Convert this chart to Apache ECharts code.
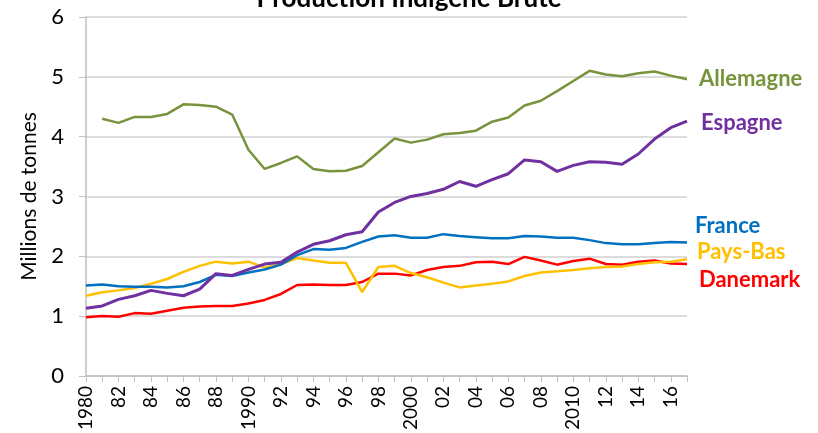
<!DOCTYPE html>
<html>
<head>
<meta charset="utf-8">
<script src="https://cdn.jsdelivr.net/npm/echarts@6/dist/echarts.min.js"></script>
<style>
html, body { margin: 0; padding: 0; background: #fff; }
#chart { width: 818px; height: 433px; }
</style>
</head>
<body>
<div id="chart"></div>
<script>
// années 1980 - 2017
const years = [];
for (let y = 1980; y <= 2017; y++) years.push(String(y));

const allemagne = [null, 4.30, 4.23, 4.33, 4.33, 4.38, 4.54, 4.53, 4.50, 4.37,
	3.78, 3.46, 3.56, 3.67, 3.46, 3.42, 3.43, 3.51, 3.74, 3.97,
	3.90, 3.95, 4.04, 4.06, 4.10, 4.25, 4.32, 4.52, 4.60, 4.76,
	4.93, 5.10, 5.04, 5.01, 5.06, 5.09, 5.02, 4.96];
const espagne = [1.13, 1.17, 1.28, 1.34, 1.43, 1.38, 1.34, 1.45, 1.71, 1.68,
	1.78, 1.87, 1.90, 2.07, 2.20, 2.26, 2.36, 2.41, 2.74, 2.90,
	3.00, 3.05, 3.12, 3.25, 3.17, 3.28, 3.38, 3.61, 3.58, 3.42,
	3.52, 3.58, 3.57, 3.54, 3.71, 3.96, 4.15, 4.26];
const france = [1.51, 1.53, 1.50, 1.49, 1.49, 1.48, 1.50, 1.57, 1.69, 1.67,
	1.73, 1.78, 1.86, 2.02, 2.12, 2.11, 2.14, 2.24, 2.33, 2.35,
	2.31, 2.31, 2.37, 2.34, 2.32, 2.30, 2.30, 2.34, 2.33, 2.31,
	2.31, 2.27, 2.22, 2.20, 2.20, 2.22, 2.24, 2.23];
const paysBas = [1.34, 1.40, 1.43, 1.47, 1.54, 1.62, 1.74, 1.84, 1.91, 1.88,
	1.91, 1.81, 1.87, 1.97, 1.93, 1.89, 1.89, 1.40, 1.82, 1.84,
	1.72, 1.65, 1.56, 1.48, 1.51, 1.54, 1.58, 1.67, 1.73, 1.75,
	1.77, 1.80, 1.82, 1.83, 1.87, 1.90, 1.91, 1.95];
const danemark = [0.98, 1.00, 0.99, 1.05, 1.04, 1.09, 1.14, 1.16, 1.17, 1.17,
	1.21, 1.27, 1.37, 1.52, 1.53, 1.52, 1.52, 1.57, 1.71, 1.71,
	1.68, 1.77, 1.82, 1.84, 1.90, 1.91, 1.87, 1.99, 1.93, 1.86,
	1.92, 1.96, 1.87, 1.86, 1.91, 1.93, 1.88, 1.87];

const fontFam = 'Lato, Open Sans, sans-serif';

function serie(name, data, color, width, off) {
	return {
		name: name,
		type: 'line',
		data: data,
		symbol: 'none',
		lineStyle: { color: color, width: width },
		itemStyle: { color: color },
		endLabel: {
			show: true,
			formatter: name,
			color: color,
			fontFamily: fontFam,
			fontWeight: 'bold',
			fontSize: 22,
			offset: off
		}
	};
}

const myChart = echarts.init(document.getElementById('chart'));
const option = {
	animation: false,
	backgroundColor: '#fff',
	title: {
		text: 'Production Indigène Brute',
		left: 'center',
		top: -19,
		textStyle: { fontFamily: fontFam, fontWeight: 'bold', fontSize: 26, color: '#000' }
	},
	grid: { left: 86, right: 131, top: 17, bottom: 57 },
	xAxis: {
		type: 'category',
		data: years,
		boundaryGap: false,
		axisLine: { lineStyle: { color: '#bfbfbf', width: 1.5 } },
		axisTick: { show: true, interval: 0, length: 6, lineStyle: { color: '#bfbfbf' } },
		axisLabel: {
			interval: 1,
			rotate: 90,
			fontFamily: fontFam,
			fontSize: 19,
			color: '#000',
			margin: 10,
			formatter: function (v) {
				return Number(v) % 10 === 0 ? v : v.slice(2);
			}
		}
	},
	yAxis: {
		type: 'value',
		min: 0,
		max: 6,
		interval: 1,
		name: 'Millions de tonnes',
		nameLocation: 'middle',
		nameGap: 46,
		nameTextStyle: { fontFamily: fontFam, fontSize: 21, color: '#000' },
		axisLine: { show: true, lineStyle: { color: '#bfbfbf', width: 1.5 } },
		axisTick: { show: true, length: 7, lineStyle: { color: '#bfbfbf' } },
		axisLabel: { fontFamily: fontFam, fontSize: 22, color: '#000', margin: 22 },
		splitLine: { lineStyle: { color: '#d0d0d0', width: 1.5 } }
	},
	series: [
		serie('Allemagne', allemagne, '#77933c', 2.5, [4, 0]),
		serie('Danemark', danemark, '#ff0000', 2.5, [4, 16]),
		serie('Pays-Bas', paysBas, '#ffc000', 2.5, [2, -7]),
		serie('France', france, '#0070c0', 2.5, [0, -17]),
		serie('Espagne', espagne, '#7030a0', 3, [6, 2])
	]
};
myChart.setOption(option);
</script>
</body>
</html>
